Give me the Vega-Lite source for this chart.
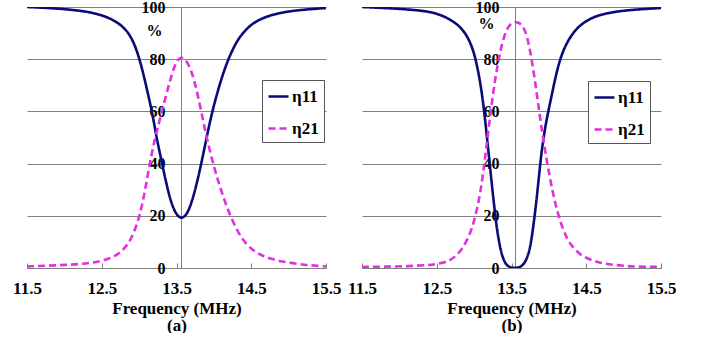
{
  "$schema": "https://vega.github.io/schema/vega-lite/v6.json",
  "padding": {"left": 12, "top": -1, "right": 0, "bottom": 0},
  "background": "white",
  "spacing": 6,
  "config": {
    "font": "Liberation Serif",
    "view": {"stroke": null},
    "axis": {"labelFont": "Liberation Serif", "labelFontWeight": "bold", "labelColor": "#000000", "titleFont": "Liberation Serif", "titleFontWeight": "bold", "titleColor": "#000000", "domainColor": "#808080", "gridColor": "#808080", "gridOpacity": 1, "tickColor": "#808080"},
    "legend": {"labelFont": "Liberation Serif", "labelFontWeight": "bold", "labelColor": "#000000", "labelFontSize": 17}
  },
  "resolve": {"legend": {"color": "independent", "strokeDash": "independent"}},
  "datasets": {
    "a": [
      {"f": 11.5, "s": "η11", "v": 100}, {"f": 11.8, "s": "η11", "v": 99.6}, {"f": 12.0, "s": "η11", "v": 99.2}, {"f": 12.2, "s": "η11", "v": 98.6}, {"f": 12.34, "s": "η11", "v": 98}, {"f": 12.47, "s": "η11", "v": 97.1}, {"f": 12.6, "s": "η11", "v": 95.8}, {"f": 12.74, "s": "η11", "v": 93.6}, {"f": 12.85, "s": "η11", "v": 90.4}, {"f": 12.91, "s": "η11", "v": 87.4}, {"f": 12.96, "s": "η11", "v": 84}, {"f": 13.01, "s": "η11", "v": 79.5}, {"f": 13.06, "s": "η11", "v": 74}, {"f": 13.1, "s": "η11", "v": 69}, {"f": 13.14, "s": "η11", "v": 64}, {"f": 13.17, "s": "η11", "v": 60}, {"f": 13.2, "s": "η11", "v": 55.5}, {"f": 13.23, "s": "η11", "v": 50.5}, {"f": 13.27, "s": "η11", "v": 45}, {"f": 13.3, "s": "η11", "v": 41}, {"f": 13.34, "s": "η11", "v": 35.5}, {"f": 13.38, "s": "η11", "v": 30.5}, {"f": 13.42, "s": "η11", "v": 26}, {"f": 13.47, "s": "η11", "v": 22}, {"f": 13.52, "s": "η11", "v": 19.8}, {"f": 13.57, "s": "η11", "v": 19}, {"f": 13.62, "s": "η11", "v": 20}, {"f": 13.66, "s": "η11", "v": 22}, {"f": 13.7, "s": "η11", "v": 25}, {"f": 13.74, "s": "η11", "v": 29}, {"f": 13.78, "s": "η11", "v": 33.5}, {"f": 13.82, "s": "η11", "v": 38.5}, {"f": 13.86, "s": "η11", "v": 44}, {"f": 13.9, "s": "η11", "v": 49.5}, {"f": 13.94, "s": "η11", "v": 55}, {"f": 13.98, "s": "η11", "v": 60}, {"f": 14.03, "s": "η11", "v": 65.5}, {"f": 14.08, "s": "η11", "v": 70.5}, {"f": 14.13, "s": "η11", "v": 75}, {"f": 14.18, "s": "η11", "v": 79}, {"f": 14.24, "s": "η11", "v": 83}, {"f": 14.31, "s": "η11", "v": 87}, {"f": 14.4, "s": "η11", "v": 90.5}, {"f": 14.5, "s": "η11", "v": 93.3}, {"f": 14.6, "s": "η11", "v": 95}, {"f": 14.7, "s": "η11", "v": 96.3}, {"f": 14.85, "s": "η11", "v": 97.5}, {"f": 15.0, "s": "η11", "v": 98.3}, {"f": 15.14, "s": "η11", "v": 98.8}, {"f": 15.3, "s": "η11", "v": 99.2}, {"f": 15.5, "s": "η11", "v": 99.6},
      {"f": 11.5, "s": "η21", "v": 0.6}, {"f": 11.8, "s": "η21", "v": 0.9}, {"f": 12.03, "s": "η21", "v": 1.2}, {"f": 12.2, "s": "η21", "v": 1.5}, {"f": 12.34, "s": "η21", "v": 1.9}, {"f": 12.47, "s": "η21", "v": 2.5}, {"f": 12.6, "s": "η21", "v": 3.6}, {"f": 12.7, "s": "η21", "v": 5}, {"f": 12.78, "s": "η21", "v": 6.8}, {"f": 12.85, "s": "η21", "v": 9.2}, {"f": 12.9, "s": "η21", "v": 11.7}, {"f": 12.96, "s": "η21", "v": 15.8}, {"f": 13.01, "s": "η21", "v": 20.5}, {"f": 13.05, "s": "η21", "v": 25.5}, {"f": 13.09, "s": "η21", "v": 31.5}, {"f": 13.14, "s": "η21", "v": 39.5}, {"f": 13.18, "s": "η21", "v": 45.5}, {"f": 13.22, "s": "η21", "v": 50.5}, {"f": 13.26, "s": "η21", "v": 55}, {"f": 13.3, "s": "η21", "v": 59.5}, {"f": 13.36, "s": "η21", "v": 66}, {"f": 13.41, "s": "η21", "v": 71.5}, {"f": 13.46, "s": "η21", "v": 76.3}, {"f": 13.51, "s": "η21", "v": 79.6}, {"f": 13.56, "s": "η21", "v": 80.8}, {"f": 13.61, "s": "η21", "v": 80.2}, {"f": 13.66, "s": "η21", "v": 78}, {"f": 13.7, "s": "η21", "v": 75.3}, {"f": 13.74, "s": "η21", "v": 71.5}, {"f": 13.78, "s": "η21", "v": 66.8}, {"f": 13.82, "s": "η21", "v": 61.5}, {"f": 13.86, "s": "η21", "v": 56}, {"f": 13.9, "s": "η21", "v": 50.5}, {"f": 13.95, "s": "η21", "v": 44.5}, {"f": 14.0, "s": "η21", "v": 39}, {"f": 14.05, "s": "η21", "v": 34}, {"f": 14.1, "s": "η21", "v": 29.5}, {"f": 14.16, "s": "η21", "v": 24.5}, {"f": 14.22, "s": "η21", "v": 20}, {"f": 14.3, "s": "η21", "v": 15}, {"f": 14.37, "s": "η21", "v": 11.6}, {"f": 14.44, "s": "η21", "v": 9}, {"f": 14.5, "s": "η21", "v": 7.4}, {"f": 14.58, "s": "η21", "v": 5.8}, {"f": 14.65, "s": "η21", "v": 4.7}, {"f": 14.75, "s": "η21", "v": 3.6}, {"f": 14.9, "s": "η21", "v": 2.5}, {"f": 15.14, "s": "η21", "v": 1.5}, {"f": 15.3, "s": "η21", "v": 1}, {"f": 15.5, "s": "η21", "v": 0.6}
    ],
    "b": [
      {"f": 11.5, "s": "η11", "v": 100}, {"f": 11.8, "s": "η11", "v": 99.6}, {"f": 12.0, "s": "η11", "v": 99.3}, {"f": 12.23, "s": "η11", "v": 98.8}, {"f": 12.4, "s": "η11", "v": 98.2}, {"f": 12.55, "s": "η11", "v": 97}, {"f": 12.67, "s": "η11", "v": 95.4}, {"f": 12.8, "s": "η11", "v": 92.8}, {"f": 12.88, "s": "η11", "v": 90}, {"f": 12.93, "s": "η11", "v": 87.5}, {"f": 12.98, "s": "η11", "v": 84}, {"f": 13.02, "s": "η11", "v": 80}, {"f": 13.06, "s": "η11", "v": 74.5}, {"f": 13.09, "s": "η11", "v": 69.5}, {"f": 13.11, "s": "η11", "v": 65.5}, {"f": 13.13, "s": "η11", "v": 61}, {"f": 13.15, "s": "η11", "v": 56}, {"f": 13.17, "s": "η11", "v": 50.5}, {"f": 13.19, "s": "η11", "v": 45}, {"f": 13.21, "s": "η11", "v": 39.5}, {"f": 13.23, "s": "η11", "v": 34}, {"f": 13.25, "s": "η11", "v": 28.5}, {"f": 13.27, "s": "η11", "v": 23.5}, {"f": 13.29, "s": "η11", "v": 18.5}, {"f": 13.31, "s": "η11", "v": 14}, {"f": 13.34, "s": "η11", "v": 9}, {"f": 13.37, "s": "η11", "v": 5.2}, {"f": 13.4, "s": "η11", "v": 2.8}, {"f": 13.43, "s": "η11", "v": 1.3}, {"f": 13.47, "s": "η11", "v": 0.4}, {"f": 13.51, "s": "η11", "v": 0.05}, {"f": 13.55, "s": "η11", "v": 0}, {"f": 13.6, "s": "η11", "v": 0.2}, {"f": 13.64, "s": "η11", "v": 0.8}, {"f": 13.68, "s": "η11", "v": 2.2}, {"f": 13.71, "s": "η11", "v": 4}, {"f": 13.74, "s": "η11", "v": 6.8}, {"f": 13.76, "s": "η11", "v": 9.8}, {"f": 13.78, "s": "η11", "v": 13.5}, {"f": 13.8, "s": "η11", "v": 17.8}, {"f": 13.82, "s": "η11", "v": 22.5}, {"f": 13.84, "s": "η11", "v": 27.5}, {"f": 13.86, "s": "η11", "v": 33}, {"f": 13.88, "s": "η11", "v": 38.5}, {"f": 13.9, "s": "η11", "v": 44}, {"f": 13.93, "s": "η11", "v": 50}, {"f": 13.96, "s": "η11", "v": 55.5}, {"f": 14.0, "s": "η11", "v": 61}, {"f": 14.04, "s": "η11", "v": 66.5}, {"f": 14.08, "s": "η11", "v": 72}, {"f": 14.13, "s": "η11", "v": 78}, {"f": 14.19, "s": "η11", "v": 83.3}, {"f": 14.27, "s": "η11", "v": 87.8}, {"f": 14.35, "s": "η11", "v": 91}, {"f": 14.44, "s": "η11", "v": 93.5}, {"f": 14.55, "s": "η11", "v": 95.5}, {"f": 14.67, "s": "η11", "v": 96.9}, {"f": 14.85, "s": "η11", "v": 98}, {"f": 15.0, "s": "η11", "v": 98.6}, {"f": 15.2, "s": "η11", "v": 99.1}, {"f": 15.5, "s": "η11", "v": 99.6},
      {"f": 11.5, "s": "η21", "v": 0.4}, {"f": 11.8, "s": "η21", "v": 0.5}, {"f": 12.1, "s": "η21", "v": 0.7}, {"f": 12.4, "s": "η21", "v": 1.1}, {"f": 12.55, "s": "η21", "v": 1.7}, {"f": 12.67, "s": "η21", "v": 2.8}, {"f": 12.76, "s": "η21", "v": 4.6}, {"f": 12.84, "s": "η21", "v": 7.4}, {"f": 12.9, "s": "η21", "v": 10.3}, {"f": 12.96, "s": "η21", "v": 14.3}, {"f": 13.0, "s": "η21", "v": 18}, {"f": 13.04, "s": "η21", "v": 22.8}, {"f": 13.07, "s": "η21", "v": 27}, {"f": 13.1, "s": "η21", "v": 32}, {"f": 13.13, "s": "η21", "v": 38.5}, {"f": 13.16, "s": "η21", "v": 45.5}, {"f": 13.19, "s": "η21", "v": 52.5}, {"f": 13.22, "s": "η21", "v": 59.5}, {"f": 13.25, "s": "η21", "v": 66}, {"f": 13.28, "s": "η21", "v": 72}, {"f": 13.31, "s": "η21", "v": 77}, {"f": 13.34, "s": "η21", "v": 81.5}, {"f": 13.37, "s": "η21", "v": 85.5}, {"f": 13.41, "s": "η21", "v": 89.5}, {"f": 13.45, "s": "η21", "v": 92.2}, {"f": 13.5, "s": "η21", "v": 93.8}, {"f": 13.55, "s": "η21", "v": 94.3}, {"f": 13.6, "s": "η21", "v": 94}, {"f": 13.64, "s": "η21", "v": 93}, {"f": 13.68, "s": "η21", "v": 91}, {"f": 13.71, "s": "η21", "v": 88.3}, {"f": 13.74, "s": "η21", "v": 84.5}, {"f": 13.77, "s": "η21", "v": 79.8}, {"f": 13.8, "s": "η21", "v": 74.5}, {"f": 13.83, "s": "η21", "v": 68.5}, {"f": 13.86, "s": "η21", "v": 62.3}, {"f": 13.89, "s": "η21", "v": 56}, {"f": 13.93, "s": "η21", "v": 48.5}, {"f": 13.97, "s": "η21", "v": 41.5}, {"f": 14.01, "s": "η21", "v": 35}, {"f": 14.05, "s": "η21", "v": 29.3}, {"f": 14.09, "s": "η21", "v": 24.3}, {"f": 14.13, "s": "η21", "v": 20}, {"f": 14.18, "s": "η21", "v": 15.5}, {"f": 14.24, "s": "η21", "v": 11.5}, {"f": 14.3, "s": "η21", "v": 8.6}, {"f": 14.4, "s": "η21", "v": 5.6}, {"f": 14.49, "s": "η21", "v": 3.9}, {"f": 14.64, "s": "η21", "v": 2.3}, {"f": 14.8, "s": "η21", "v": 1.4}, {"f": 15.0, "s": "η21", "v": 0.8}, {"f": 15.2, "s": "η21", "v": 0.5}, {"f": 15.5, "s": "η21", "v": 0.4}
    ]
  },
  "hconcat": [
    {
      "width": 299,
      "height": 261,
      "data": {"name": "a"},
      "mark": {"type": "line", "strokeWidth": 2.6, "interpolate": "basis", "clip": true},
      "encoding": {
        "x": {"field": "f", "type": "quantitative", "scale": {"domain": [11.5, 15.5], "nice": false, "zero": false},
          "axis": {"values": [11.5, 12.5, 13.5, 14.5, 15.5], "format": ".1f", "labelFontSize": 17, "tickSize": -5, "labelPadding": 17, "grid": false, "title": ["Frequency (MHz)", "(a)"], "titleFontSize": 17, "titleLineHeight": 17, "titlePadding": 4, "labelFlush": false}},
        "y": {"field": "v", "type": "quantitative", "scale": {"domain": [0, 100], "nice": false},
          "axis": {"values": [0, 20, 40, 60, 80, 100], "offset": -154, "ticks": false, "labelPadding": 16, "labelFontSize": 16, "grid": true, "title": "%", "titleAngle": 0, "titleX": -27, "titleY": 23, "titleAlign": "center", "titleBaseline": "middle", "titleFontSize": 16}},
        "color": {"field": "s", "type": "nominal", "scale": {"domain": ["η11", "η21"], "range": ["#0b0b78", "#e030e0"]},
          "legend": {"title": null, "orient": "none", "legendX": 235, "legendY": 73, "symbolType": "stroke", "symbolSize": 400, "symbolStrokeWidth": 2.6, "strokeColor": "#555555", "fillColor": "white", "padding": 5, "rowPadding": 12, "labelOffset": 2, "labelFontSize": 17}},
        "strokeDash": {"field": "s", "type": "nominal", "scale": {"domain": ["η11", "η21"], "range": [[1, 0], [7, 4]]},
          "legend": {"title": null, "orient": "none", "legendX": 235, "legendY": 73, "symbolType": "stroke", "symbolSize": 400, "symbolStrokeWidth": 2.6, "strokeColor": "#555555", "fillColor": "white", "padding": 5, "rowPadding": 12, "labelOffset": 2, "labelFontSize": 17}}
      }
    },
    {
      "width": 299,
      "height": 261,
      "data": {"name": "b"},
      "mark": {"type": "line", "strokeWidth": 2.6, "interpolate": "basis", "clip": true},
      "encoding": {
        "x": {"field": "f", "type": "quantitative", "scale": {"domain": [11.5, 15.5], "nice": false, "zero": false},
          "axis": {"values": [11.5, 12.5, 13.5, 14.5, 15.5], "format": ".1f", "labelFontSize": 17, "tickSize": -5, "labelPadding": 17, "grid": false, "title": ["Frequency (MHz)", "(b)"], "titleFontSize": 17, "titleLineHeight": 17, "titlePadding": 4, "labelFlush": false}},
        "y": {"field": "v", "type": "quantitative", "scale": {"domain": [0, 100], "nice": false},
          "axis": {"values": [0, 20, 40, 60, 80, 100], "offset": -153, "ticks": false, "labelPadding": 16, "labelFontSize": 16, "grid": true, "title": "%", "titleAngle": 0, "titleX": -29, "titleY": 16, "titleAlign": "center", "titleBaseline": "middle", "titleFontSize": 16}},
        "color": {"field": "s", "type": "nominal", "scale": {"domain": ["η11", "η21"], "range": ["#0b0b78", "#e030e0"]},
          "legend": {"title": null, "orient": "none", "legendX": 226, "legendY": 74, "symbolType": "stroke", "symbolSize": 400, "symbolStrokeWidth": 2.6, "strokeColor": "#555555", "fillColor": "white", "padding": 5, "rowPadding": 12, "labelOffset": 2, "labelFontSize": 17}},
        "strokeDash": {"field": "s", "type": "nominal", "scale": {"domain": ["η11", "η21"], "range": [[1, 0], [7, 4]]},
          "legend": {"title": null, "orient": "none", "legendX": 226, "legendY": 74, "symbolType": "stroke", "symbolSize": 400, "symbolStrokeWidth": 2.6, "strokeColor": "#555555", "fillColor": "white", "padding": 5, "rowPadding": 12, "labelOffset": 2, "labelFontSize": 17}}
      }
    }
  ]
}
